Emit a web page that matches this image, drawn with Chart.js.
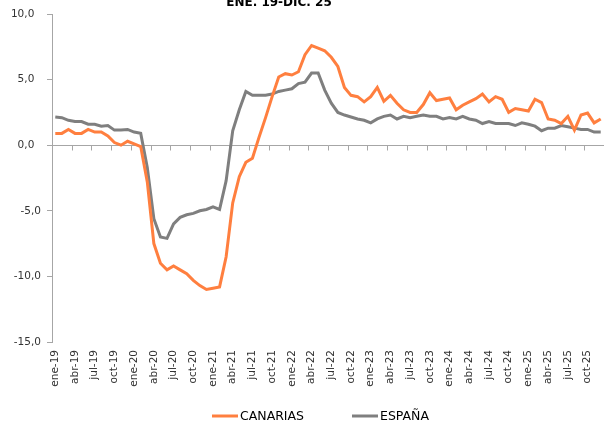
<!DOCTYPE html>
<html>
<head>
<meta charset="utf-8">
<script src="https://cdn.jsdelivr.net/npm/chart.js@4.4.0/dist/chart.umd.min.js"></script>
<style>
  body { margin: 0; background: #fff; }
  canvas { display: block; }
</style>
</head>
<body>
<canvas id="chart" width="604" height="423"></canvas>
<script>
const months = ['ene', 'feb', 'mar', 'abr', 'may', 'jun', 'jul', 'ago', 'sep', 'oct', 'nov', 'dic'];
const years  = ['19', '20', '21', '22', '23', '24', '25'];

const categories = [];
years.forEach(y => months.forEach(m => categories.push(m + '-' + y)));

const seriesNames = ['CANARIAS', 'ESPAÑA'];

const canarias = [
  0.9, 0.9, 1.2, 0.9, 0.9, 1.2, 1.0, 1.0, 0.7, 0.2, 0.0, 0.3,
  0.1, -0.1, -2.8, -7.5, -9.0, -9.5, -9.2, -9.5, -9.8, -10.3, -10.7, -11.0,
  -10.9, -10.8, -8.5, -4.4, -2.4, -1.3, -1.0, 0.6, 2.1, 3.7, 5.2, 5.45,
  5.35, 5.6, 6.9, 7.6, 7.4, 7.2, 6.7, 6.0, 4.4, 3.8, 3.7, 3.3,
  3.7, 4.4, 3.35, 3.8, 3.2, 2.7, 2.5, 2.5, 3.1, 4.0, 3.4, 3.5,
  3.6, 2.7, 3.05, 3.3, 3.55, 3.9, 3.3, 3.7, 3.5, 2.5, 2.8, 2.7,
  2.6, 3.5, 3.25, 2.0, 1.9, 1.65, 2.2, 1.15, 2.3, 2.45, 1.7, 2.0
];

const espana = [
  2.15, 2.1, 1.9, 1.8, 1.8, 1.6, 1.6, 1.45, 1.5, 1.15, 1.15, 1.2,
  1.0, 0.9, -1.7, -5.6, -7.0, -7.1, -6.0, -5.5, -5.3, -5.2, -5.0, -4.9,
  -4.7, -4.9, -2.7, 1.1, 2.7, 4.1, 3.8, 3.8, 3.8, 3.9, 4.1, 4.2,
  4.3, 4.7, 4.8, 5.5, 5.5, 4.2, 3.2, 2.5, 2.3, 2.15, 2.0, 1.9,
  1.7, 2.0, 2.2, 2.3, 2.0, 2.2, 2.1, 2.2, 2.3, 2.2, 2.2, 2.0,
  2.1, 2.0, 2.2, 2.0, 1.9, 1.65, 1.8, 1.65, 1.65, 1.65, 1.5, 1.7,
  1.6, 1.45, 1.1, 1.3, 1.3, 1.5, 1.4, 1.3, 1.2, 1.2, 1.0, 1.0
];

const yTicks = [-15, -10, -5, 0, 5, 10];
const titleText = 'ENE. 19-DIC. 25';

const orange    = '#FF7F3F';
const grey      = '#7F7F7F';
const axisColor = '#A6A6A6';
const textColor = '#333333';
const fontFace  = '"DejaVu Sans", Verdana, sans-serif';

// title sits partly cut off at the top edge
const titlePlugin = {
  id: 'cutTitle',
  afterDraw(chart) {
    const ctx = chart.ctx;
    ctx.save();
    ctx.font = 'bold 12px ' + fontFace;
    ctx.fillStyle = '#000';
    ctx.textAlign = 'center';
    ctx.textBaseline = 'alphabetic';
    ctx.fillText(titleText, 279, 6);
    ctx.restore();
  }
};

// small tick marks hanging from the zero line, every 3 months
const zeroTicks = {
  id: 'zeroTicks',
  beforeDatasetsDraw(chart) {
    const { ctx, scales: { x, y } } = chart;
    const y0 = Math.round(y.getPixelForValue(0)) + 0.5;
    ctx.save();
    ctx.strokeStyle = axisColor;
    ctx.lineWidth = 1;
    ctx.beginPath();
    for (let i = 3; i <= categories.length; i += 3) {
      const px = Math.round(x.getPixelForValue(i - 0.5)) + 0.5;
      ctx.moveTo(px, y0);
      ctx.lineTo(px, y0 + 5);
    }
    ctx.stroke();
    ctx.restore();
  }
};

// excel-like legend: short line, name right after it
const bottomLegend = {
  id: 'bottomLegend',
  afterDraw(chart) {
    const ctx = chart.ctx;
    const starts = [212, 352];
    const ly = 416;
    ctx.save();
    ctx.font = '12.5px ' + fontFace;
    ctx.textBaseline = 'middle';
    ctx.textAlign = 'left';
    chart.data.datasets.forEach((ds, i) => {
      ctx.strokeStyle = ds.borderColor;
      ctx.lineWidth = 3;
      ctx.beginPath();
      ctx.moveTo(starts[i], ly);
      ctx.lineTo(starts[i] + 26, ly);
      ctx.stroke();
      ctx.fillStyle = '#000';
      ctx.fillText(ds.label, starts[i] + 28, ly + 1);
    });
    ctx.restore();
  }
};

function fmt(v) {
  const s = v.toFixed(1).replace('.', ',');
  return v < 0 ? s : s + '\u2007';
}

new Chart(document.getElementById('chart'), {
  type: 'line',
  data: {
    labels: categories,
    datasets: [{
      label: seriesNames[0],
      data: canarias,
      borderColor: orange,
      backgroundColor: orange,
      borderWidth: 3,
      pointRadius: 0,
      tension: 0
    }, {
      label: seriesNames[1],
      data: espana,
      borderColor: grey,
      backgroundColor: grey,
      borderWidth: 3,
      pointRadius: 0,
      tension: 0
    }]
  },
  options: {
    responsive: false,
    animation: false,
    devicePixelRatio: 1,
    layout: { padding: { top: 14, left: 0, right: 0, bottom: 0 } },
    plugins: {
      title: { display: false },
      tooltip: { enabled: false },
      legend: { display: false }
    },
    scales: {
      x: {
        offset: true,
        grid: { display: false, drawTicks: false },
        border: { display: false },
        ticks: {
          autoSkip: false,
          minRotation: 90,
          maxRotation: 90,
          padding: 8,
          color: textColor,
          font: { family: fontFace, size: 10.5 },
          callback: (v, i) => i % 3 === 0 ? categories[i] : ''
        },
        afterFit: scale => {
          scale.height = 81;
          scale.paddingLeft = 0;
          scale.paddingRight = 0;
        }
      },
      y: {
        min: yTicks[0],
        max: yTicks[yTicks.length - 1],
        afterBuildTicks: scale => { scale.ticks = yTicks.map(v => ({ value: v })); },
        border: { display: true, color: axisColor, width: 1 },
        grid: {
          color: c => c.tick && c.tick.value === 0 ? axisColor : 'rgba(0,0,0,0)',
          tickColor: axisColor,
          tickLength: 5
        },
        ticks: {
          padding: 6,
          color: textColor,
          font: { family: fontFace, size: 10.5 },
          callback: v => fmt(v)
        },
        afterFit: scale => { scale.width = 52; }
      }
    }
  },
  plugins: [titlePlugin, zeroTicks, bottomLegend]
});
</script>
</body>
</html>
